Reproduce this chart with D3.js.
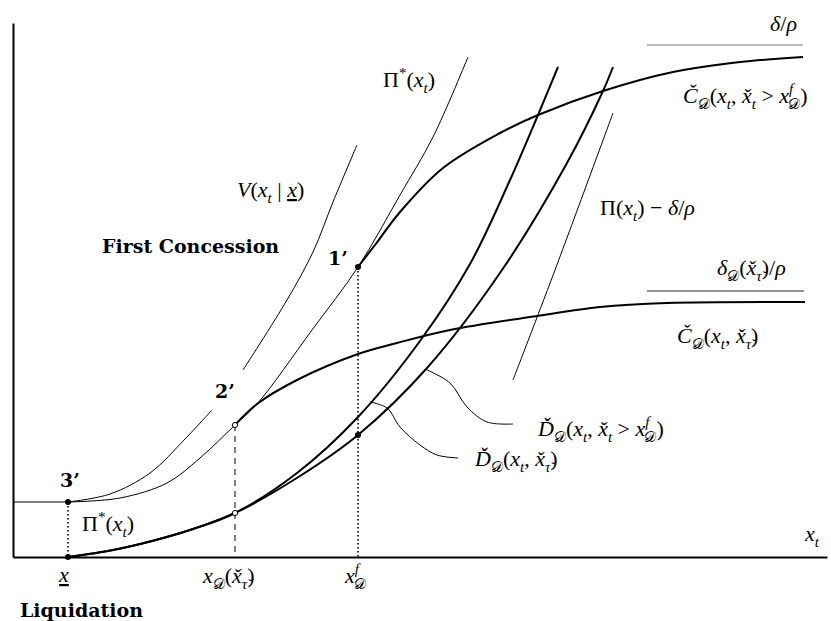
<!DOCTYPE html>
<html>
<head>
<meta charset="utf-8">
<script src="https://cdn.jsdelivr.net/npm/d3@7"></script>
<style>
  body { margin: 0; background: #fff; }
  svg { display: block; }
  .math { font-family: "Liberation Serif", "DejaVu Serif", serif; font-size: 22px; }
  .bold { font-family: "DejaVu Serif", serif; font-weight: bold; font-size: 19px; }
</style>
</head>
<body>
<div id="chart"></div>
<script>
// Curves (x = state x_t, y = value), chart units
const floorLine = [[0, 0.55], [0.55, 0.55]];
const vLow = [[0.55, 0.55], [0.97, 0.63], [1.37, 0.84], [1.72, 1.18], [1.99, 1.47]];
const vHigh = [[2.30, 1.87], [2.74, 2.57], [3.00, 3.05], [3.20, 3.55], [3.44, 4.12]];
const piStar = [[0.55, 0.55], [1.07, 0.59], [1.54, 0.74], [1.87, 0.99], [2.22, 1.32], [2.44, 1.53],
  [2.99, 2.27], [3.45, 2.90], [3.87, 3.62], [4.20, 4.20], [4.55, 5.00]];
const cFirst = [[3.45, 2.90], [3.62, 3.12], [3.87, 3.45], [4.30, 3.89], [4.87, 4.24], [5.25, 4.42],
  [5.90, 4.66], [6.60, 4.85], [7.27, 4.95], [7.90, 5.00]];
const cTau = [[2.22, 1.32], [2.44, 1.53], [2.84, 1.77], [3.45, 2.03], [3.84, 2.14], [4.37, 2.27],
  [5.24, 2.41], [5.87, 2.50], [6.54, 2.54], [7.92, 2.55]];
const dBase = [[0.55, 0], [1.00, 0.07], [1.39, 0.16], [1.80, 0.28], [2.22, 0.44]];
const dTau = dBase.concat([[2.84, 0.84], [3.45, 1.40], [4.07, 2.16], [4.57, 2.93],
  [4.97, 3.77], [5.25, 4.42], [5.45, 4.90]]);
const dFirst = dBase.concat([[2.87, 0.81], [3.45, 1.22], [4.14, 1.89], [4.89, 2.87], [5.54, 3.94],
  [5.90, 4.66], [6.00, 4.90]]);
const piLess = [[6.00, 4.44], [5.42, 2.87], [5.00, 1.77]];
const leaderTau = [[3.57, 1.55], [3.74, 1.49], [3.87, 1.30], [4.07, 1.12], [4.24, 1.02], [4.45, 0.99]];
const leaderFirst = [[4.12, 1.88], [4.37, 1.74], [4.54, 1.50], [4.74, 1.35], [5.00, 1.33]];
const deltaLine = [[6.34, 5.12], [7.90, 5.12]];
const deltaTauLine = [[6.34, 2.66], [7.91, 2.66]];

const filledPts = [[0.55, 0.55], [0.55, 0], [3.45, 2.90], [3.45, 1.22]];
const openPts = [[2.22, 1.32], [2.22, 0.44]];
const dottedDrops = [[0.55, 0.55], [3.45, 2.90]];
const dashedDrops = [[2.22, 1.32]];

// labels: parts are [text, flags]  i=italic b=subscript p=superscript k=stack under previous u=underline
const D = "\u{1D49F}", xc = "x\u030C", tc = "\u03C4\u030C";
const mathLabels = [
  { x: 7.84, y: 5.26, anchor: "end", parts: [["δ", "i"], ["/", ""], ["ρ", "i"]] },
  { x: 3.70, y: 4.70, parts: [["Π", ""], ["*", "p"], ["(", ""], ["x", "i"], ["t", "ib"], [")", ""]] },
  { x: 2.24, y: 3.60, parts: [["V", "i"], ["(", ""], ["x", "i"], ["t", "ib"], [" | ", ""], ["x", "iu"], [")", ""]] },
  { x: 0.69, y: 0.26, parts: [["Π", ""], ["*", "p"], ["(", ""], ["x", "i"], ["t", "ib"], [")", ""]] },
  { x: 6.70, y: 4.54, parts: [["Č", "i"], [D, "b"], ["(", ""], ["x", "i"], ["t", "ib"], [", ", ""], [xc, "i"],
    ["t", "ib"], [" > ", ""], ["x", "i"], ["f", "ip"], [D, "bk"], [")", ""]] },
  { x: 5.87, y: 3.42, parts: [["Π", ""], ["(", ""], ["x", "i"], ["t", "ib"], [") − ", ""], ["δ", "i"], ["/", ""], ["ρ", "i"]] },
  { x: 7.04, y: 2.82, parts: [["δ", "i"], [D, "b"], ["(", ""], [xc, "i"], [tc, "ib"], [")/", ""], ["ρ", "i"]] },
  { x: 6.64, y: 2.14, parts: [["Č", "i"], [D, "b"], ["(", ""], ["x", "i"], ["t", "ib"], [", ", ""], [xc, "i"], [tc, "ib"], [")", ""]] },
  { x: 5.25, y: 1.21, parts: [["Ď", "i"], [D, "b"], ["(", ""], ["x", "i"], ["t", "ib"], [", ", ""], [xc, "i"],
    ["t", "ib"], [" > ", ""], ["x", "i"], ["f", "ip"], [D, "bk"], [")", ""]] },
  { x: 4.62, y: 0.91, parts: [["Ď", "i"], [D, "b"], ["(", ""], ["x", "i"], ["t", "ib"], [", ", ""], [xc, "i"], [tc, "ib"], [")", ""]] },
  { x: 7.92, y: 0.16, parts: [["x", "i"], ["t", "ib"]] },
  { x: 0.51, y: -0.25, anchor: "middle", parts: [["x", "iu"]] },
  { x: 1.90, y: -0.26, parts: [["x", "i"], [D, "b"], ["(", ""], [xc, "i"], [tc, "ib"], [")", ""]] },
  { x: 3.32, y: -0.26, parts: [["x", "i"], ["f", "ip"], [D, "bk"]] }
];
const boldLabels = [
  { x: 0.89, y: 3.04, text: "First Concession" },
  { x: 3.15, y: 2.92, text: "1’" },
  { x: 2.02, y: 1.59, text: "2’" },
  { x: 0.47, y: 0.70, text: "3’" },
  { x: 0.07, y: -0.60, text: "Liquidation" }
];

const width = 831, height = 621;
const svg = d3.select("#chart").append("svg").attr("width", width).attr("height", height);

const xScale = d3.scaleLinear().domain([0, 8.14]).range([13, 827]);
const yScale = d3.scaleLinear().domain([0, 5.34]).range([557, 23]);

// axes without ticks
svg.append("g").attr("transform", `translate(0,${yScale(0)})`)
  .call(d3.axisBottom(xScale).tickValues([]).tickSizeOuter(0))
  .select(".domain").attr("stroke-width", 2.2);
svg.append("g").attr("transform", `translate(${xScale(0)},0)`)
  .call(d3.axisLeft(yScale).tickValues([]).tickSizeOuter(0))
  .select(".domain").attr("stroke-width", 2);

const smooth = d3.line().x(d => xScale(d[0])).y(d => yScale(d[1])).curve(d3.curveCatmullRom);
const straight = d3.line().x(d => xScale(d[0])).y(d => yScale(d[1]));

function path(data, w, gen, color) {
  svg.append("path").datum(data).attr("fill", "none").attr("stroke", color || "#000")
    .attr("stroke-width", w).attr("d", gen || smooth);
}

// vertical drops
dottedDrops.forEach(d => {
  svg.append("line").attr("x1", xScale(d[0])).attr("x2", xScale(d[0]))
    .attr("y1", yScale(d[1])).attr("y2", yScale(0))
    .attr("stroke", "#000").attr("stroke-width", 1.6).attr("stroke-dasharray", "1.5,2.5");
});
dashedDrops.forEach(d => {
  svg.append("line").attr("x1", xScale(d[0])).attr("x2", xScale(d[0]))
    .attr("y1", yScale(d[1])).attr("y2", yScale(0))
    .attr("stroke", "#000").attr("stroke-width", 1).attr("stroke-dasharray", "6,5");
});

path(deltaLine, 1, straight, "#777");
path(deltaTauLine, 1, straight, "#222");
path(floorLine, 1.2, straight);
path(vLow, 1);
path(vHigh, 1);
path(piStar, 1);
path(piLess, 1);
path(leaderTau, 1);
path(leaderFirst, 1);
path(cFirst, 2);
path(cTau, 2);
path(dTau, 2);
path(dFirst, 2);

svg.selectAll(".fpt").data(filledPts).enter().append("circle")
  .attr("cx", d => xScale(d[0])).attr("cy", d => yScale(d[1])).attr("r", 3).attr("fill", "#000");
svg.selectAll(".opt").data(openPts).enter().append("circle")
  .attr("cx", d => xScale(d[0])).attr("cy", d => yScale(d[1])).attr("r", 2.6)
  .attr("fill", "#fff").attr("stroke", "#000").attr("stroke-width", 1);

// text with sub/superscripts
mathLabels.forEach(l => {
  const t = svg.append("text").attr("class", "math")
    .attr("x", xScale(l.x)).attr("y", yScale(l.y))
    .attr("text-anchor", l.anchor || "start");
  let shift = 0;
  l.parts.forEach(([s, f]) => {
    const target = f.includes("b") ? 6 : f.includes("p") ? -9 : 0;
    const ts = t.append("tspan").text(s).attr("dy", target - shift);
    if (f.includes("i")) ts.attr("font-style", "italic");
    if (f.includes("b") || f.includes("p")) ts.attr("font-size", "15px");
    if (f.includes("k")) ts.attr("dx", -5);
    if (f.includes("u")) ts.attr("text-decoration", "underline");
    shift = target;
  });
});

boldLabels.forEach(l => {
  svg.append("text").attr("class", "bold")
    .attr("x", xScale(l.x)).attr("y", yScale(l.y)).text(l.text);
});
</script>
</body>
</html>
